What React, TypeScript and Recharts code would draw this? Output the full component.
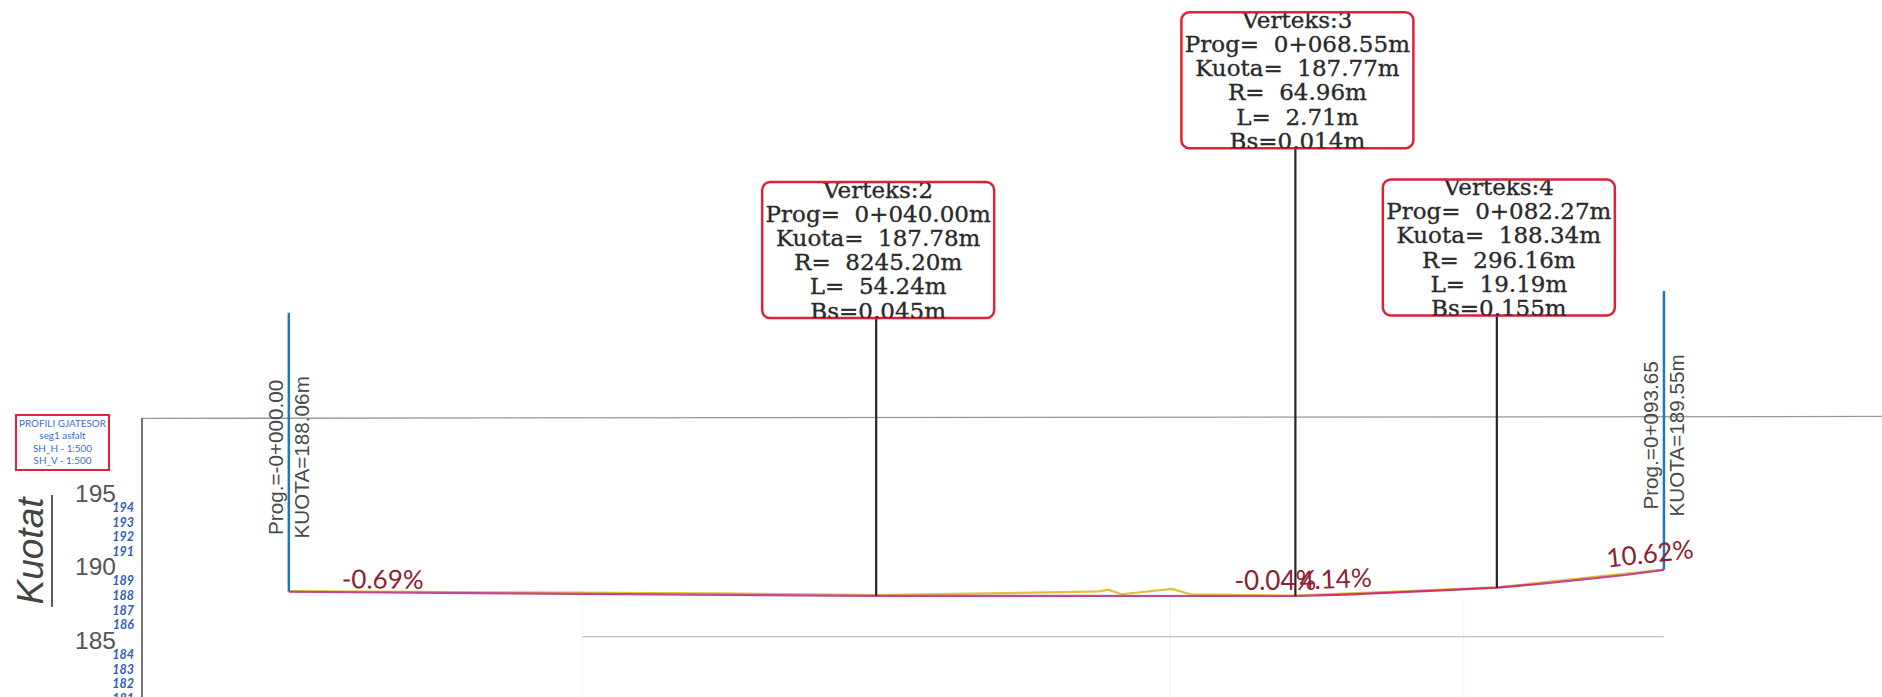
import React from "react";
import { LineChart, Line, XAxis, YAxis, ReferenceLine, ReferenceDot } from "recharts";

// ---- data ----
const designProg = [0, 40, 68.55, 72, 75, 78.5, 82.27, 85, 88, 91, 93.65];
const designKuota = [188.06, 187.78, 187.77, 187.87, 188.0, 188.16, 188.34, 188.58, 188.88, 189.2, 189.55];
const redProg = [70, 75, 78.5, 82.27, 85];
const redKuota = [187.82, 188.0, 188.16, 188.34, 188.58];
const terrainProg = [0, 14, 20, 25, 29.4, 40, 51.8, 55.2, 55.8, 56.7, 60.15, 61.4, 63.2, 68.55, 82.27, 93.65];
const terrainKuota = [188.1, 188.02, 188.0, 187.96, 187.95, 187.83, 188.02, 188.09, 188.2, 187.89, 188.25, 187.89, 187.87, 187.8, 188.36, 189.57];

const vertexNames = ["Verteks:2", "Verteks:3", "Verteks:4"];
const vertexProgText = ["0+040.00m", "0+068.55m", "0+082.27m"];
const vertexKuotaText = ["187.78m", "187.77m", "188.34m"];
const vertexR = ["8245.20m", "64.96m", "296.16m"];
const vertexL = ["54.24m", "2.71m", "19.19m"];
const vertexBs = ["0.045m", "0.014m", "0.155m"];
const vertexProg = [40, 68.55, 82.27];
const vertexKuota = [187.78, 187.77, 188.34];
const vertexStem = [18.92, 30.5, 18.54];

const endProg = [0, 93.65];
const endKuota = [188.06, 189.55];
const endStem = [19, 19];
const endProgText = ["Prog.=-0+000.00", "Prog.=0+093.65"];
const endKuotaText = ["KUOTA=188.06m", "KUOTA=189.55m"];

const gradeText = ["-0.69%", "-0.04%", "4.14%", "10.62%"];
const gradeValue = [-0.69, -0.04, 4.14, 10.62];
const gradeProg = [3.6, 64.4, 68.85, 89.8];
const gradeKuota = [188.3, 188.2, 188.2, 189.72];

const majorTicks = [195, 190, 185];
const allTicks = [195, 194, 193, 192, 191, 190, 189, 188, 187, 186, 185, 184, 183, 182, 181];
const faintProg = [20, 60, 80];
const titleLines = ["PROFILI GJATESOR", "seg1 asfalt", "SH_H - 1:500", "SH_V - 1:500"];
const axisTitle = "Kuotat";

// ---- layout ----
const W = 1882;
const H = 697;
const AXIS_X = 142;
const X_DOMAIN = [-10, 108.5];
const Y_DOMAIN = [180.89, 228.37];

const design = designProg.map((p, i) => ({ p, v: designKuota[i] }));
const red = redProg.map((p, i) => ({ p, v: redKuota[i] }));
const terrain = terrainProg.map((p, i) => ({ p, v: terrainKuota[i] }));

const AxisTick = (props: any) => {
  const { y, payload } = props;
  const v = payload.value;
  if (majorTicks.includes(v)) {
    return (
      <text x={AXIS_X - 26} y={y + 12} textAnchor="end" fontFamily="'Liberation Sans'" fontSize={24.5} fill="#555">
        {v}
      </text>
    );
  }
  return (
    <text x={AXIS_X - 8} y={y + 7.5} textAnchor="end" fontFamily="Lato" fontStyle="italic" fontWeight={700} fontSize={12.5} fill="#2f62b8">
      {v}
    </text>
  );
};

const VertexBox = (i: number) => (props: any) => {
  const { cx, cy } = props;
  const bw = 232;
  const bh = 136;
  const left = cx - bw / 2 + 2;
  const top = cy - bh;
  const lines = [
    vertexNames[i],
    `Prog=\u00a0\u00a0${vertexProgText[i]}`,
    `Kuota=\u00a0\u00a0${vertexKuotaText[i]}`,
    `R=\u00a0\u00a0${vertexR[i]}`,
    `L=\u00a0\u00a0${vertexL[i]}`,
    `Bs=${vertexBs[i]}`,
  ];
  const id = `boxclip${i}`;
  return (
    <g>
      <clipPath id={id}>
        <rect x={left} y={top + 1} width={bw} height={bh - 1} />
      </clipPath>
      <rect x={left} y={top} width={bw} height={bh} rx={8} ry={8} fill="#fff" stroke="#dd2236" strokeWidth={2.5} />
      <g clipPath={`url(#${id})`}>
        {lines.map((t, k) => (
          <text key={k} x={left + bw / 2} y={top + 15.5 + k * 24.2} textAnchor="middle" fontFamily="'DejaVu Serif'" fontSize={23} stroke="#2a2a2a" strokeWidth={0.35} fill="#2a2a2a">
            {t}
          </text>
        ))}
      </g>
    </g>
  );
};

const SideLabels = (i: number) => (props: any) => {
  const { cx, cy } = props;
  const common = { fontFamily: "'Liberation Sans'", fontSize: 20.7, fill: "#4a4a4a", textAnchor: "middle" as const };
  const a = cx - 5.5;
  const b = cx + 20;
  return (
    <g>
      <text {...common} x={a} y={cy} transform={`rotate(-90 ${a} ${cy})`}>{endProgText[i]}</text>
      <text {...common} x={b} y={cy} transform={`rotate(-90 ${b} ${cy})`}>{endKuotaText[i]}</text>
    </g>
  );
};

const GradeLabel = (i: number) => (props: any) => {
  const { cx, cy } = props;
  const angle = (-Math.atan(gradeValue[i] / 100) * 180) / Math.PI;
  return (
    <text x={cx} y={cy} fontFamily="Lato" fontSize={26} fill="#8c2233" transform={`rotate(${angle} ${cx} ${cy})`}>
      {gradeText[i]}
    </text>
  );
};

export default function App() {
  return (
    <div style={{ position: "absolute", left: 0, top: 0, width: W, height: H, background: "#fff", overflow: "hidden" }}>
      <LineChart width={W} height={H} margin={{ top: 0, right: 0, bottom: 0, left: 0 }}>
        <XAxis type="number" dataKey="p" domain={X_DOMAIN} hide allowDataOverflow />
        <YAxis
          type="number"
          dataKey="v"
          width={AXIS_X}
          domain={Y_DOMAIN}
          ticks={allTicks}
          interval={0}
          axisLine={false}
          tickLine={false}
          tick={<AxisTick />}
          allowDataOverflow
        />

        {faintProg.map((p) => (
          <ReferenceLine key={p} segment={[{ x: p, y: 187.6 }, { x: p, y: Y_DOMAIN[0] }]} stroke="#f5f5f5" strokeWidth={1.5} />
        ))}
        <ReferenceLine segment={[{ x: X_DOMAIN[0], y: 199.87 }, { x: X_DOMAIN[1], y: 200 }]} stroke="#999" strokeWidth={1.3} />
        <ReferenceLine segment={[{ x: X_DOMAIN[0], y: 199.9 }, { x: X_DOMAIN[0], y: Y_DOMAIN[0] }]} stroke="#767676" strokeWidth={2} />
        <ReferenceLine segment={[{ x: 20, y: 185 }, { x: 93.65, y: 185 }]} stroke="#c0c0c0" strokeWidth={1.2} />

        <Line data={terrain} dataKey="v" type="linear" stroke="#dcc23f" strokeWidth={2.2} dot={false} isAnimationActive={false} />
        <Line data={design} dataKey="v" type="linear" stroke="#c4468e" strokeWidth={2.2} dot={false} isAnimationActive={false} />
        <Line data={red} dataKey="v" type="linear" stroke="#e0283f" strokeWidth={1} dot={false} isAnimationActive={false} />

        {endProg.map((p, i) => (
          <ReferenceLine key={p} segment={[{ x: p, y: endKuota[i] }, { x: p, y: endKuota[i] + endStem[i] }]} stroke="#1f78b9" strokeWidth={2.5} />
        ))}
        {vertexProg.map((p, i) => (
          <ReferenceLine key={p} segment={[{ x: p, y: vertexKuota[i] }, { x: p, y: vertexKuota[i] + vertexStem[i] }]} stroke="#262626" strokeWidth={2.2} />
        ))}
        {vertexProg.map((p, i) => (
          <ReferenceDot key={p} x={p} y={vertexKuota[i] + vertexStem[i]} r={1} shape={VertexBox(i)} />
        ))}
        {endProg.map((p, i) => (
          <ReferenceDot key={p} x={p} y={endKuota[i] + endStem[i] / 2 - 0.34} r={1} shape={SideLabels(i)} />
        ))}
        {gradeText.map((t, i) => (
          <ReferenceDot key={t} x={gradeProg[i]} y={gradeKuota[i]} r={1} shape={GradeLabel(i)} />
        ))}

        <g>
          <rect x={16} y={415} width={93} height={55} fill="#fff" stroke="#e5203a" strokeWidth={2} />
          {titleLines.map((t, i) => (
            <text key={t} x={62.5} y={426.5 + i * 12.5} textAnchor="middle" fontFamily="Lato" fontSize={9.9} fill="#3b6fc4">
              {t}
            </text>
          ))}
          <text x={43} y={551} transform="rotate(-90 43 551)" textAnchor="middle" fontFamily="'Liberation Sans'" fontStyle="italic" fontSize={37} fill="#444">
            {axisTitle}
          </text>
          <line x1={52} y1={495} x2={52} y2={607} stroke="#333" strokeWidth={1.6} />
        </g>
      </LineChart>
    </div>
  );
}
